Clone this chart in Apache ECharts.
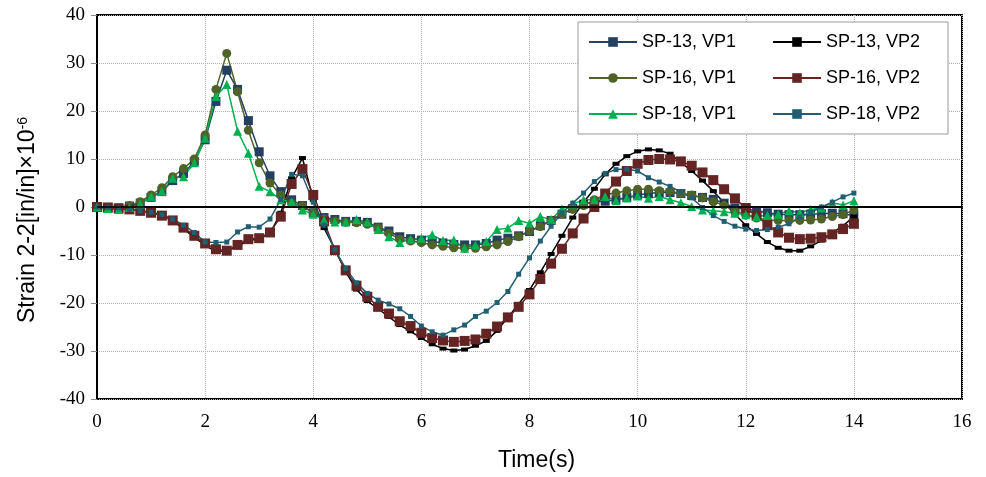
<!DOCTYPE html>
<html lang="en" style="height: 100%;width: 100%">
<head>
    <meta charset="UTF-8">
    <title>Strain 2-2</title>
    <script src="https://cdn.jsdelivr.net/npm/echarts@6/dist/echarts.min.js"></script>
</head>
<body style="height: 100%; margin: 0; background: #fff">
<div id="charts" style="height: 477px;width: 986px"></div>
<script>
    // time steps 0, 0.2, ... 14 s
    var times = [];
    for (var i = 0; i <= 70; i++) times.push(+(i * 0.2).toFixed(1));

    var sp13vp1 = [0, -0.2, -0.2, 0.2, 0.8, 2.0, 3.2, 5.5, 7.0, 9.5,
        14, 22, 28.5, 24.5, 18, 11.5, 6.5, 3.2, 1.5, 0.3,
        -1.2, -2.2, -2.6, -3.0, -3.0, -3.2, -4.2, -5.0, -6.2, -6.6,
        -6.9, -7.2, -7.5, -7.8, -7.9, -7.9, -7.6, -6.9, -6.5, -6.0,
        -5.1, -3.9, -2.8, -1.5, -0.3, 0.6, 1.1, 1.2, 1.5, 2.0,
        2.5, 2.8, 3.0, 3.0, 2.8, 2.4, 2.0, 1.6, 0.8, -0.2,
        -0.4, -0.8, -1.2, -1.5, -1.6, -1.6, -1.5, -1.4, -1.3, -1.4, -1.8];
    var sp13vp2 = [0, -0.1, -0.3, -0.5, -0.8, -1.2, -1.6, -2.8, -4.6, -6.3,
        -8.0, -9.3, -9.1, -8.2, -7.0, -6.6, -5.5, -1.2, 6.0, 10.2,
        1.5, -4.4, -8.8, -13.5, -17.2, -19.6, -21.2, -22.9, -24.6, -25.9,
        -27.3, -28.6, -29.5, -29.9, -29.7, -28.9, -27.9, -25.8, -23.0, -20.2,
        -17.3, -13.6, -9.8, -6.0, -2.2, 1.0, 3.8, 6.8, 9.0, 10.6,
        11.6, 12.0, 11.8, 11.1, 9.3, 7.5, 5.5, 3.3, 0.9, -1.5,
        -3.8, -5.6, -7.3, -8.5, -9.1, -9.1, -8.2, -7.0, -5.4, -3.9, -2.0];
    var sp16vp1 = [0, -0.3, -0.3, 0.3, 1.1, 2.5, 4.0, 6.3, 8.0, 10.0,
        15, 24.5, 32, 24, 16, 9.2, 5.0, 2.5, 0.8, 0.2,
        -1.2, -2.5, -2.9, -3.2, -3.3, -3.6, -4.3, -5.5, -6.7, -7.1,
        -7.4, -7.9, -8.2, -8.5, -8.6, -8.6, -8.3, -7.9, -7.2, -6.2,
        -5.0, -4.1, -2.8, -1.4, -0.5, 0.3, 1.5, 2.6, 2.9, 3.4,
        3.7, 3.7, 3.4, 3.3, 2.8, 2.5, 1.9, 1.1, 0.4, -0.8,
        -1.7, -2.3, -2.7, -2.8, -2.8, -2.8, -2.7, -2.5, -2.0, -1.6, -0.6];
    var sp16vp2 = [0, -0.1, -0.3, -0.5, -0.8, -1.2, -1.8, -2.8, -4.3, -6.0,
        -7.6, -8.8, -9.1, -7.9, -6.7, -6.5, -5.3, -2.0, 4.8, 7.9,
        2.5, -3.0, -9.0, -13.2, -16.4, -18.7, -20.8, -22.2, -23.8, -24.8,
        -26.2, -27.3, -27.8, -28.1, -27.9, -27.6, -26.4, -24.9, -23.0, -20.8,
        -18.2, -15.0, -11.8, -8.7, -5.5, -2.4, 0.0, 2.8, 5.3, 7.5,
        9.0, 9.8, 10.0, 9.9, 9.5, 8.6, 7.2, 5.6, 3.7, 1.8,
        -0.2, -1.8, -3.8, -5.3, -6.4, -6.7, -6.6, -6.3, -5.7, -4.6, -3.5];
    var sp18vp1 = [0, -0.3, -0.5, -0.1, 0.6, 2.2, 3.3, 6.0, 6.3, 9.2,
        14.3, 23, 25.5, 15.8, 11.2, 4.3, 3.2, 1.5, 1.1, -0.6,
        -1.5, -2.7, -3.1, -3.1, -2.6, -3.1, -4.7, -6.2, -7.4, -6.7,
        -6.5, -5.8, -7.0, -6.9, -8.6, -7.9, -7.2, -4.7, -4.4, -2.8,
        -3.4, -2.0, -2.6, -0.4, 0.6, 1.5, 1.5, 2.2, 1.3, 1.9,
        2.3, 1.8, 2.2, 1.5, 0.9, 0.1, -0.6, -0.8, -1.0, -1.3,
        -1.6, -2.0, -1.7, -1.5, -0.8, -1.2, -0.5, -0.2, 0.9, 0.4, 1.3];
    var sp18vp2 = [0, -0.1, -0.2, -0.5, -0.8, -1.1, -1.6, -2.5, -3.8, -5.3,
        -7.3, -7.4, -7.3, -5.2, -4.1, -4.2, -2.5, 1.6, 6.8, 6.5,
        1.0, -3.8, -8.9, -12.8, -15.8, -18.0, -19.4, -20.2, -21.2, -22.8,
        -24.8, -26.0, -26.7, -25.6, -24.6, -22.8, -21.7, -19.9, -17.6, -14.0,
        -10.6, -7.1, -4.0, -1.2, 0.8, 2.9, 5.3, 7.0, 7.8, 7.9,
        7.5, 6.1, 5.2, 4.3, 3.1, 1.9, -0.1, -1.8, -3.0, -4.0,
        -4.6, -4.9, -4.7, -4.2, -3.5, -2.1, -1.1, 0.0, 1.0, 2.1, 2.9];

    var xTicks = [0, 2, 4, 6, 8, 10, 12, 14, 16];
    var yTicks = [-40, -30, -20, -10, 0, 10, 20, 30, 40];

    function pairs(vals) {
        return times.map(function (t, i) { return [t, vals[i]]; });
    }

    function line(name, vals, color, symbol, size, extra) {
        var s = {
            name: name,
            type: 'line',
            data: pairs(vals),
            symbol: symbol,
            symbolSize: size,
            showAllSymbol: true,
            lineStyle: {color: color, width: 1.5},
            itemStyle: {color: color},
            emphasis: {disabled: true}
        };
        if (extra) for (var k in extra) s[k] = extra[k];
        return s;
    }

    var myChart = echarts.init(document.getElementById('charts'));
    var serif = 'Liberation Serif';
    var option = {
        animation: false,
        backgroundColor: '#fff',
        grid: {
            left: 97, right: 24, top: 15, bottom: 78,
            show: true, borderColor: '#000', borderWidth: 2
        },
        legend: {
            left: 578, top: 22, width: 370,
            padding: [10, 8, 10, 10],
            backgroundColor: '#fff',
            borderColor: '#999', borderWidth: 1,
            itemWidth: 48, itemHeight: 12, itemGap: 16,
            textStyle: {fontFamily: 'Liberation Sans', fontSize: 18, color: '#000', width: 114, lineHeight: 20},
            data: ['SP-13, VP1', 'SP-13, VP2', 'SP-16, VP1', 'SP-16, VP2', 'SP-18, VP1', 'SP-18, VP2']
        },
        xAxis: {
            type: 'value', min: 0, max: 16, interval: 2,
            name: 'Time(s)', nameLocation: 'middle', nameGap: 50,
            nameTextStyle: {fontFamily: 'Liberation Sans', fontSize: 23, color: '#000', padding: [0, 0, 0, 14]},
            axisLine: {show: true, lineStyle: {color: '#000', width: 2}},
            axisTick: {show: false},
            axisLabel: {
                fontFamily: serif, fontSize: 19, color: '#000', margin: 14,
                formatter: function (v) { return xTicks.indexOf(v) >= 0 ? String(v) : ''; }
            },
            splitLine: {show: true, lineStyle: {color: '#b0b0b0', type: 'dotted', width: 1}}
        },
        yAxis: {
            type: 'value', min: -40, max: 40, interval: 10,
            name: 'Strain 2-2[in/in]×10{sup|-6}', nameLocation: 'middle', nameGap: 58,
            nameTextStyle: {
                fontFamily: 'Liberation Sans', fontSize: 23, color: '#000', padding: [0, 26, 0, 0],
                rich: {sup: {fontFamily: 'Liberation Sans', fontSize: 14, color: '#000', verticalAlign: 'top', lineHeight: 14, padding: [0, 0, 12, 0]}}
            },
            axisLine: {show: true, lineStyle: {color: '#000', width: 2}},
            axisTick: {show: true, inside: false, length: 6, lineStyle: {color: '#888'}},
            axisLabel: {
                fontFamily: serif, fontSize: 19, color: '#000', margin: 12,
                formatter: function (v) { return yTicks.indexOf(v) >= 0 ? String(v) : ''; }
            },
            splitLine: {show: true, lineStyle: {color: '#b0b0b0', type: 'dotted', width: 1}}
        },
        series: [
            line('SP-13, VP1', sp13vp1, '#243f60', 'rect', 9, {
                markLine: {
                    silent: true, symbol: 'none', label: {show: false},
                    lineStyle: {color: '#000', width: 1.5, type: 'solid'},
                    data: [{yAxis: 0}]
                }
            }),
            line('SP-13, VP2', sp13vp2, '#000000', 'rect', [7, 4]),
            line('SP-16, VP1', sp16vp1, '#4f6228', 'circle', 9),
            line('SP-16, VP2', sp16vp2, '#632423', 'rect', 10),
            line('SP-18, VP1', sp18vp1, '#00b050', 'triangle', 9),
            line('SP-18, VP2', sp18vp2, '#215e72', 'rect', 5)
        ]
    };
    myChart.setOption(option, true);
</script>
</body>
</html>
